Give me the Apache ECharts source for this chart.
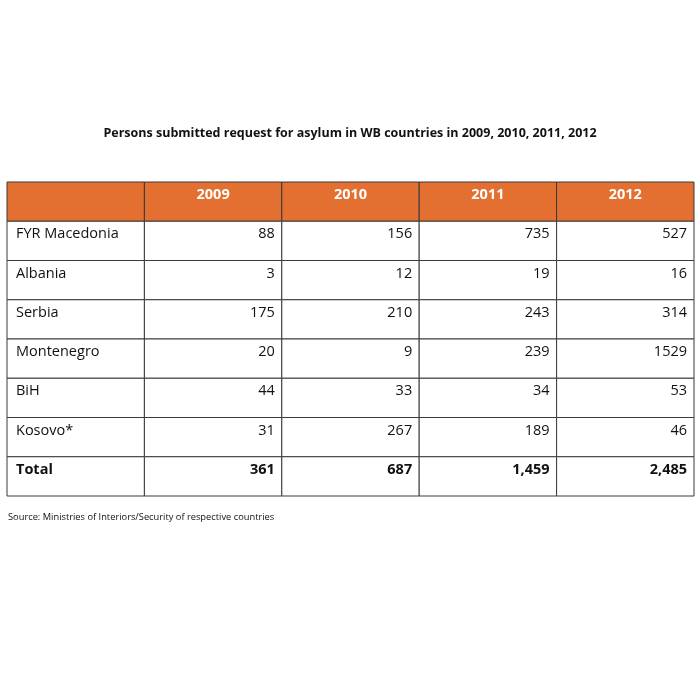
<!DOCTYPE html>
<html>
<head>
<meta charset="utf-8">
<script src="https://cdn.jsdelivr.net/npm/echarts@6/dist/echarts.min.js"></script>
<style>
  html, body { margin: 0; padding: 0; background: #fff; }
  #main { width: 700px; height: 700px; }
</style>
</head>
<body>
<div id="main"></div>
<script>
// table data
var years = ['2009', '2010', '2011', '2012'];
var countries = ['FYR Macedonia', 'Albania', 'Serbia', 'Montenegro', 'BiH', 'Kosovo*'];
var y2009 = [88, 3, 175, 20, 44, 31];
var y2010 = [156, 12, 210, 9, 33, 267];
var y2011 = [735, 19, 243, 239, 34, 189];
var y2012 = [527, 16, 314, 1529, 53, 46];
var totals = ['361', '687', '1,459', '2,485'];

var columns = ['label'].concat(years);
var rows = ['header'].concat(countries, ['Total']);
var yearValues = [y2009, y2010, y2011, y2012];

// build cells: [col, row], plus text/kind kept side by side
var cells = [];
var cellText = [];
var cellKind = [];
function addCell(c, r, text, kind) {
  cells.push([c, r]);
  cellText.push(text);
  cellKind.push(kind);
}
addCell(0, 0, '', 'head');
years.forEach(function (y, i) { addCell(i + 1, 0, y, 'head'); });
countries.forEach(function (name, r) {
  addCell(0, r + 1, name, 'name');
  yearValues.forEach(function (vals, i) { addCell(i + 1, r + 1, String(vals[r]), 'num'); });
});
addCell(0, rows.length - 1, 'Total', 'totalName');
totals.forEach(function (t, i) { addCell(i + 1, rows.length - 1, t, 'totalNum'); });

var font = '"Open Sans", sans-serif';

var myChart = echarts.init(document.getElementById('main'));
var option = {
  backgroundColor: '#ffffff',
  animation: false,
  title: [{
    text: 'Persons submitted request for asylum in WB countries in 2009, 2010, 2011, 2012',
    left: 'center',
    top: 122,
    textStyle: { fontFamily: font, fontSize: 12.5, fontWeight: 'bold', color: '#111' }
  }, {
    text: 'Source: Ministries of Interiors/Security of respective countries',
    left: 3,
    top: 508,
    textStyle: { fontFamily: font, fontSize: 9.3, fontWeight: 'normal', color: '#111' }
  }],
  grid: { left: 7, right: 6, top: 182, bottom: 204 },
  xAxis: { type: 'category', data: columns, show: false },
  yAxis: { type: 'category', data: rows, inverse: true, show: false },
  series: [{
    type: 'custom',
    data: cells,
    renderItem: function (params, api) {
      var c = api.value(0), r = api.value(1);
      var center = api.coord([c, r]);
      var size = api.size([1, 1]);
      var x0 = center[0] - size[0] / 2;
      var y0 = center[1] - size[1] / 2;
      var kind = cellKind[params.dataIndex];
      var text = cellText[params.dataIndex];
      var isHead = kind === 'head';
      var bold = isHead || kind === 'totalName' || kind === 'totalNum';
      var alignRight = kind === 'num' || kind === 'totalNum';
      var tx, align;
      if (isHead) { tx = center[0]; align = 'center'; }
      else if (alignRight) { tx = x0 + size[0] - 7; align = 'right'; }
      else { tx = x0 + 9; align = 'left'; }
      return {
        type: 'group',
        children: [{
          type: 'rect',
          shape: { x: x0, y: y0, width: size[0], height: size[1] },
          style: { fill: isHead ? '#e36f30' : '#ffffff', stroke: '#3a3a3a', lineWidth: 1 }
        }, {
          type: 'text',
          style: {
            x: tx,
            y: y0 + 13,
            text: text,
            align: align,
            verticalAlign: 'middle',
            fill: isHead ? '#ffffff' : '#111111',
            font: (bold ? 'bold ' : '') + '14.5px ' + font
          }
        }]
      };
    }
  }]
};
myChart.setOption(option);
</script>
</body>
</html>
